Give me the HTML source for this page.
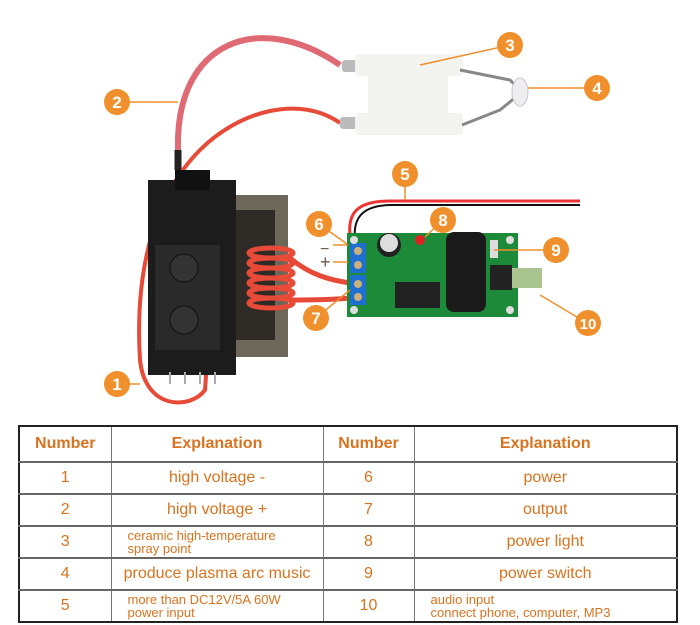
<!DOCTYPE html>
<html><head><style>
body{margin:0;background:#fff;width:700px;height:625px;overflow:hidden;font-family:"Liberation Sans",sans-serif}
svg{position:absolute;left:0;top:0}
table{position:absolute;left:18px;top:425px;border-collapse:collapse;width:660px;height:189px;border:2px solid #222;table-layout:fixed}
td{border:1px solid #777;border-top:2px solid #666;color:#d9731f;text-align:center;font-size:16px;padding:0;height:30px;white-space:nowrap;overflow:hidden}
th{border:1px solid #777;color:#d9731f;font-size:16px;height:32px;font-weight:bold}
td.s{font-size:13px;text-align:left;padding-left:16px;line-height:13px}
</style></head><body>
<svg width="700" height="420" viewBox="0 0 700 420">
<path d="M178 150 C175 40 260 10 340 65" stroke="#e06a74" stroke-width="6" fill="none"/>
<path d="M178 150 L178 170" stroke="#222" stroke-width="7"/>
<path d="M340 123 C300 95 240 110 200 150 C150 200 135 280 140 360 C145 410 190 410 205 390 L207 362" stroke="#e84a38" stroke-width="4" fill="none"/>
<rect x="342" y="60" width="20" height="12" rx="3" fill="#bbb"/>
<rect x="340" y="117" width="20" height="12" rx="3" fill="#bbb"/>
<rect x="355" y="54" width="108" height="22" rx="4" fill="#f3f3f0"/>
<rect x="355" y="113" width="108" height="22" rx="4" fill="#f3f3f0"/>
<rect x="368" y="60" width="80" height="70" fill="#f3f3f0"/>
<path d="M460 70 L510 80 L522 92 L500 110 L462 125" stroke="#888" stroke-width="3" fill="none"/>
<ellipse cx="520" cy="92" rx="8" ry="14" fill="#eee" stroke="#c9c0d8"/>
<rect x="220" y="195" width="68" height="162" fill="#6d675a"/>
<rect x="235" y="210" width="40" height="130" fill="#2e2a25"/>
<rect x="148" y="180" width="88" height="195" fill="#1c1c1c"/>
<rect x="175" y="170" width="35" height="20" fill="#111"/>
<rect x="155" y="245" width="65" height="105" fill="#2a2a2a"/>
<circle cx="184" cy="268" r="14" fill="#333" stroke="#111"/>
<circle cx="184" cy="320" r="14" fill="#333" stroke="#111"/>
<g stroke="#e84a38" stroke-width="5" fill="none">
<ellipse cx="271" cy="253" rx="22" ry="5"/><ellipse cx="271" cy="263" rx="22" ry="5"/><ellipse cx="271" cy="273" rx="22" ry="5"/><ellipse cx="271" cy="283" rx="22" ry="5"/><ellipse cx="271" cy="293" rx="22" ry="5"/><ellipse cx="271" cy="303" rx="22" ry="5"/>
<path d="M290 258 C310 275 330 280 350 283"/><path d="M290 300 C310 300 330 300 350 298"/>
</g>
<g stroke="#aaa" stroke-width="2"><path d="M170 372v12M185 372v12M200 372v12M215 372v12"/></g>
<path d="M580 201 L390 201 C355 201 348 215 350 235" stroke="#e33" stroke-width="3" fill="none"/>
<path d="M580 205 L392 205 C360 205 353 220 355 240" stroke="#111" stroke-width="2" fill="none"/>
<rect x="347" y="233" width="171" height="84" fill="#1d8a3a"/>
<rect x="350" y="243" width="16" height="30" fill="#1f6fd1"/>
<rect x="350" y="275" width="16" height="30" fill="#1f6fd1"/>
<circle cx="358" cy="251" r="4" fill="#c9b27a"/><circle cx="358" cy="265" r="4" fill="#c9b27a"/><circle cx="358" cy="284" r="4" fill="#c9b27a"/><circle cx="358" cy="297" r="4" fill="#c9b27a"/>
<circle cx="389" cy="245" r="12" fill="#222"/><circle cx="389" cy="243" r="9" fill="#ddd"/>
<circle cx="420" cy="240" r="5" fill="#d22"/>
<rect x="446" y="232" width="40" height="80" rx="8" fill="#1a1a1a"/>
<rect x="395" y="282" width="45" height="26" fill="#222"/>
<rect x="490" y="240" width="8" height="18" fill="#ddd"/>
<rect x="490" y="265" width="22" height="25" fill="#222"/>
<rect x="512" y="268" width="30" height="20" fill="#a9c48e"/>
<circle cx="354" cy="240" r="4" fill="#ddd"/><circle cx="354" cy="310" r="4" fill="#ddd"/><circle cx="510" cy="240" r="4" fill="#ddd"/><circle cx="510" cy="310" r="4" fill="#ddd"/>
<text x="320" y="254" font-size="16" fill="#6a5a4a">−</text><text x="320" y="268" font-size="18" fill="#6a5a4a">+</text>
<g stroke="#f0902c" stroke-width="1.5">
<path d="M117 384H140M117 102H178M510 45L420 65M597 88H528M405 174V200M319 224L347 244M316 318L350 290M443 220L425 237M556 250H494M587 323L540 295M333 245H348M333 262H348"/>
</g>
<g fill="#f0902c">
<circle cx="117" cy="384" r="13"/><circle cx="117" cy="102" r="13"/><circle cx="510" cy="45" r="13"/><circle cx="597" cy="88" r="13"/><circle cx="405" cy="174" r="13"/><circle cx="319" cy="224" r="13"/><circle cx="316" cy="318" r="13"/><circle cx="443" cy="220" r="13"/><circle cx="556" cy="250" r="13"/><circle cx="588" cy="323" r="13"/>
</g>
<g fill="#fff" font-size="17" font-weight="bold" text-anchor="middle">
<text x="117" y="390">1</text><text x="117" y="108">2</text><text x="510" y="51">3</text><text x="597" y="94">4</text><text x="405" y="180">5</text><text x="319" y="230">6</text><text x="316" y="324">7</text><text x="443" y="226">8</text><text x="556" y="256">9</text><text x="588" y="329" font-size="15">10</text>
</g>
</svg>
<table>
<colgroup><col style="width:92px"><col style="width:212px"><col style="width:91px"><col></colgroup>
<tr><th>Number</th><th>Explanation</th><th>Number</th><th>Explanation</th></tr>
<tr><td>1</td><td>high voltage -</td><td>6</td><td>power</td></tr>
<tr><td>2</td><td>high voltage +</td><td>7</td><td>output</td></tr>
<tr><td>3</td><td class="s">ceramic high-temperature<br>spray point</td><td>8</td><td>power light</td></tr>
<tr><td>4</td><td>produce plasma arc music</td><td>9</td><td>power switch</td></tr>
<tr><td>5</td><td class="s">more than DC12V/5A 60W<br>power input</td><td>10</td><td class="s">audio input<br>connect phone, computer, MP3</td></tr>
</table>
</body></html>
